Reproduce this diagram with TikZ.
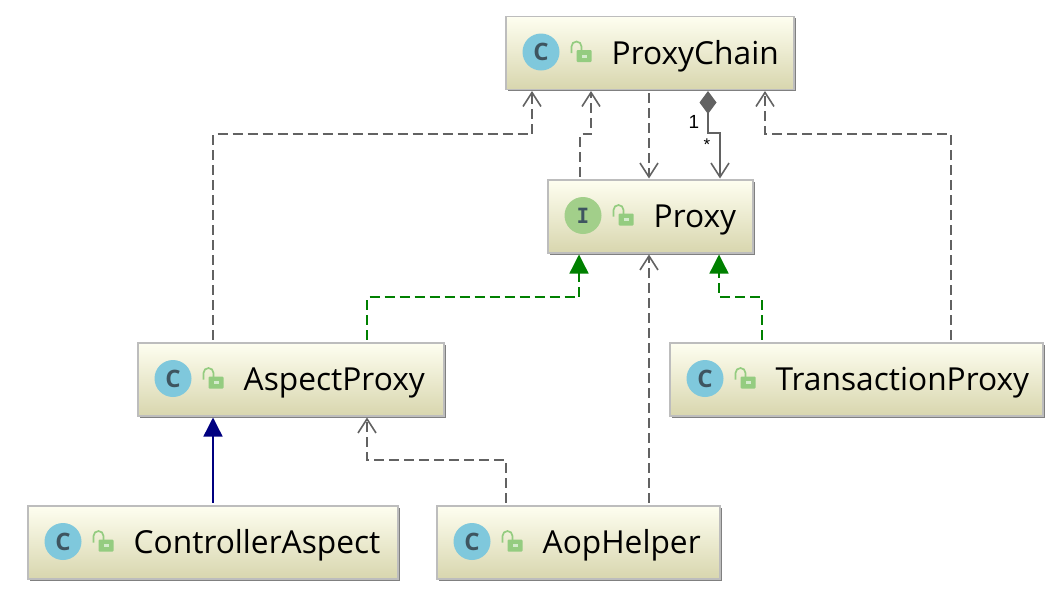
\documentclass[tikz,border=0pt]{standalone}
\usepackage{fontspec}
\setmainfont{Open Sans}
\newfontfamily\labelfont{Liberation Sans}
\newfontfamily\slabfont{DejaVu Sans Mono}
\usetikzlibrary{arrows.meta, positioning, shadows}

\definecolor{boxtop}{HTML}{FEFEF0}
\definecolor{boxbottom}{HTML}{D8D6AE}
\definecolor{boxline}{HTML}{BDBDBD}
\definecolor{linegray}{HTML}{626262}
\definecolor{classblue}{HTML}{7FC8DC}
\definecolor{ifacegreen}{HTML}{A2CF8A}
\definecolor{lockgreen}{HTML}{94CC80}
\definecolor{icontext}{HTML}{3E5560}
\definecolor{implgreen}{HTML}{008000}
\definecolor{extnavy}{HTML}{000080}

\begin{document}
\begin{tikzpicture}[
    x=1pt, y=-1pt,
    umlbox/.style={rectangle, draw=boxline, line width=1.2pt, top color=boxtop, bottom color=boxbottom,
                   minimum height=73pt, outer sep=1.5pt,
                   drop shadow={shadow xshift=1.6pt, shadow yshift=-1.6pt, fill=gray, opacity=1}},
    title/.style={anchor=base west, inner sep=0pt, font=\fontsize{31.7}{36}\selectfont},
    classicon/.style={circle, fill=classblue, minimum size=37pt, inner sep=0pt, text=icontext,
                      font=\fontsize{24}{28}\selectfont\bfseries},
    ifaceicon/.style={circle, fill=ifacegreen, minimum size=37pt, inner sep=0pt, text=icontext,
                      font=\slabfont\fontsize{21}{24}\selectfont\bfseries},
    lockicon/.pic={
        \draw[lockgreen, line width=1.7pt] (-2.5,-5) -- (-2.5,-9.5) arc[start angle=0, end angle=-180, radius=5] -- (-12.5,-3);
        \fill[lockgreen, rounded corners=1pt] (-7.5,-6) rectangle (7.5,6);
        \fill[white!60!lockgreen] (-2.5,-1.5) rectangle (2.5,1.5);
    },
    dep/.style={-{Straight Barb[length=14pt, width=18pt, line width=1.6pt]}, linegray, line width=1.6pt,
                dash pattern=on 10pt off 5pt, shorten <=2pt},
    impl/.style={-{Triangle[length=19pt, width=19pt]}, implgreen, line width=1.4pt,
                 dash pattern=on 10pt off 5pt, shorten <=2pt},
    ext/.style={-{Triangle[length=19pt, width=19pt]}, extnavy, line width=1.4pt, shorten <=2pt},
    comp/.style={{Diamond[length=23pt, width=17pt]}-{Straight Barb[length=14pt, width=18pt, line width=1.6pt]},
                 linegray, line width=1.6pt},
    onelabel/.style={inner sep=0pt, font=\labelfont\fontsize{19}{21}\selectfont},
    manylabel/.style={inner sep=0pt, font=\labelfont\fontsize{17}{19}\selectfont}
]
\useasboundingbox (0,0) rectangle (1059,600);

% Classes
\node[umlbox, minimum width=288pt] (chain) at (650,53) {};
\node[classicon] (chainicon) at ([xshift=36.5pt, yshift=1pt]chain.west) {C};
\pic at ([xshift=79.5pt, yshift=-3pt]chain.west) {lockicon};
\node[title] (chaintext) at ([xshift=107pt, yshift=-11pt]chain.west) {ProxyChain};

\node[umlbox, minimum width=205pt] (proxy) at (650.5,216.5) {};
\node[ifaceicon] (proxyicon) at ([xshift=36.5pt, yshift=1pt]proxy.west) {I};
\pic at ([xshift=79.5pt, yshift=-3pt]proxy.west) {lockicon};
\node[title] (proxytext) at ([xshift=107pt, yshift=-11pt]proxy.west) {Proxy};

\node[umlbox, minimum width=306pt] (aspect) at (291,379.5) {};
\node[classicon] (aspecticon) at ([xshift=36.5pt, yshift=1pt]aspect.west) {C};
\pic at ([xshift=79.5pt, yshift=-3pt]aspect.west) {lockicon};
\node[title] (aspecttext) at ([xshift=107pt, yshift=-11pt]aspect.west) {AspectProxy};

\node[umlbox, minimum width=373pt] (trans) at (856.5,379.5) {};
\node[classicon] (transicon) at ([xshift=36.5pt, yshift=1pt]trans.west) {C};
\pic at ([xshift=79.5pt, yshift=-3pt]trans.west) {lockicon};
\node[title] (transtext) at ([xshift=107pt, yshift=-11pt]trans.west) {TransactionProxy};

\node[umlbox, minimum width=370pt] (control) at (213,542.5) {};
\node[classicon] (controlicon) at ([xshift=36.5pt, yshift=1pt]control.west) {C};
\pic at ([xshift=79.5pt, yshift=-3pt]control.west) {lockicon};
\node[title] (controltext) at ([xshift=107pt, yshift=-11pt]control.west) {ControllerAspect};

\node[umlbox, minimum width=283pt] (helper) at (578.5,542.5) {};
\node[classicon] (helpericon) at ([xshift=36.5pt, yshift=1pt]helper.west) {C};
\pic at ([xshift=79.5pt, yshift=-3pt]helper.west) {lockicon};
\node[title] (helpertext) at ([xshift=107pt, yshift=-11pt]helper.west) {AopHelper};

% Dependencies
\draw[dep] ([xshift=-78pt]aspect.north) -- ++(0,-207.5) -| ([xshift=-118pt]chain.south);
\draw[dep] ([xshift=-70.5pt]proxy.north) -- ++(0,-44.5) -| ([xshift=-59pt]chain.south);
\draw[dep] ([xshift=-1pt]chain.south) -- ([xshift=-1.5pt]proxy.north);
\draw[dep] ([xshift=94.5pt]trans.north) -- ++(0,-207.5) -| ([xshift=115pt]chain.south);
\draw[dep] ([xshift=70.5pt]helper.north) -- ([xshift=-1.5pt]proxy.south);
\draw[dep] ([xshift=-72.5pt]helper.north) -- ++(0,-44.5) -| ([xshift=76pt]aspect.south);

% Composition
\draw[comp] ([xshift=58pt]chain.south) -- ++(0,42) -| ([xshift=69.5pt]proxy.north);
\node[onelabel] (one) at (694,122) {1};
\node[manylabel] (many) at (707,145) {*};

% Implements and extends
\draw[impl] ([xshift=76pt]aspect.north) -- ++(0,-44.5) -| ([xshift=-71.5pt]proxy.south);
\draw[impl] ([xshift=-94.5pt]trans.north) -- ++(0,-44.5) -| ([xshift=68.5pt]proxy.south);
\draw[ext] (control.north) -- ([xshift=-78pt]aspect.south);

\end{tikzpicture}
\end{document}
